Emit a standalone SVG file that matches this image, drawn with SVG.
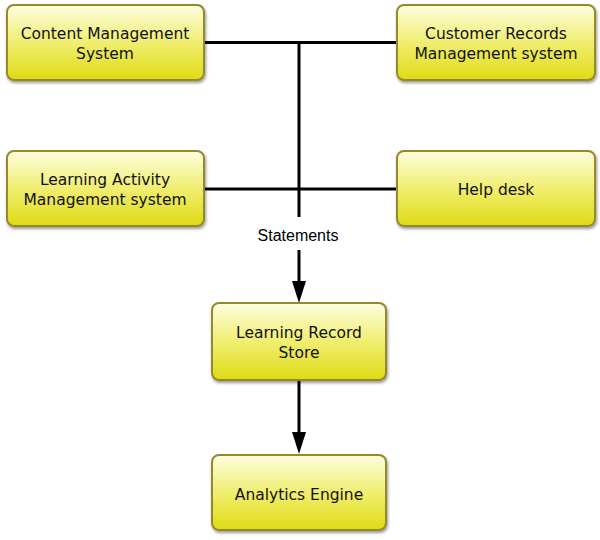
<svg xmlns="http://www.w3.org/2000/svg" width="600" height="540" viewBox="0 0 600 540">
<defs>
<linearGradient id="g" x1="0" y1="0" x2="0" y2="1">
<stop offset="0" stop-color="#fdfde0"/>
<stop offset="0.5" stop-color="#f0ee70"/>
<stop offset="1" stop-color="#dfdb14"/>
</linearGradient>
<filter id="sh" x="-10%" y="-10%" width="130%" height="140%">
<feDropShadow dx="1" dy="2" stdDeviation="1.5" flood-color="#000" flood-opacity="0.4"/>
</filter>
<marker id="ah" markerWidth="14" markerHeight="22" refX="7" refY="21" orient="auto-start-reverse" markerUnits="userSpaceOnUse" viewBox="0 0 14 22">
<path d="M0,0 L14,0 L7,22 Z" fill="#000"/>
</marker>
</defs>
<style>
.box{fill:url(#g);stroke:#948a2c;stroke-width:2;filter:url(#sh)}
.t{font-family:"DejaVu Sans",sans-serif;font-size:15.5px;fill:#111;text-anchor:middle}
.c{stroke:#000;stroke-width:3;fill:none}
.lbl{font-family:"Liberation Sans",Arial,sans-serif;font-size:16px;fill:#000;text-anchor:middle}
</style>
<g id="connectors">
<path class="c" d="M204,42.5 H397"/>
<path class="c" d="M204,189 H397"/>
<path class="c" d="M299,42.5 V217"/>
<path class="c" d="M299,250 V283"/>
<path d="M292,281 L306,281 L299,303 Z" fill="#000"/>
<path class="c" d="M299,380 V434"/>
<path d="M292,432 L306,432 L299,454 Z" fill="#000"/>
<text class="lbl" x="298" y="241">Statements</text>
</g>
<g id="cms">
<rect class="box" x="7" y="5" width="197" height="75" rx="7"/>
<text class="t" x="105" y="39">Content Management</text>
<text class="t" x="105" y="59">System</text>
</g>
<g id="crm">
<rect class="box" x="397" y="5" width="198" height="75" rx="7"/>
<text class="t" x="496" y="39">Customer Records</text>
<text class="t" x="496" y="59">Management system</text>
</g>
<g id="lams">
<rect class="box" x="7" y="151" width="197" height="75" rx="7"/>
<text class="t" x="105" y="185">Learning Activity</text>
<text class="t" x="105" y="205">Management system</text>
</g>
<g id="helpdesk">
<rect class="box" x="397" y="151" width="198" height="75" rx="7"/>
<text class="t" x="496" y="195">Help desk</text>
</g>
<g id="lrs">
<rect class="box" x="212" y="303" width="174" height="77" rx="7"/>
<text class="t" x="299" y="338">Learning Record</text>
<text class="t" x="299" y="358">Store</text>
</g>
<g id="analytics">
<rect class="box" x="212" y="455" width="174" height="75" rx="7"/>
<text class="t" x="299" y="500">Analytics Engine</text>
</g>
</svg>
